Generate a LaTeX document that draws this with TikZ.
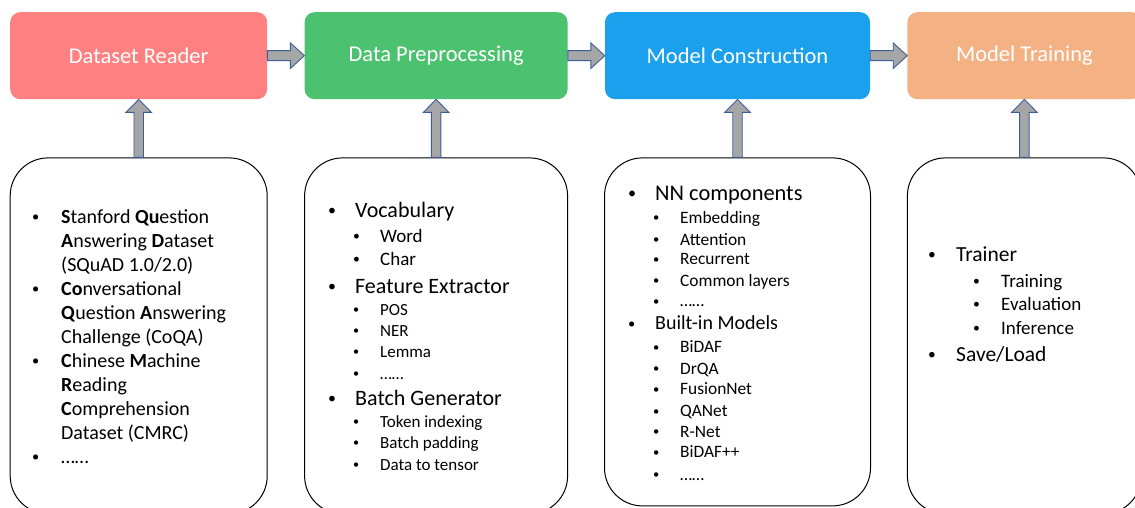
\documentclass[tikz,border=0pt]{standalone}
\usepackage{fontspec}
\setmainfont{Carlito}
\usetikzlibrary{positioning,calc}

\definecolor{readerred}{RGB}{255,128,128}
\definecolor{prepgreen}{RGB}{76,194,112}
\definecolor{modelblue}{RGB}{26,160,237}
\definecolor{trainorange}{RGB}{244,177,131}
\definecolor{arrowfill}{RGB}{166,166,166}
\definecolor{arrowline}{RGB}{60,95,155}

\tikzset{
  stage/.style={rectangle, rounded corners=10pt, minimum height=87pt,
    inner sep=0pt, text=white, font=\fontsize{22.5}{27}\selectfont},
  panel/.style={rectangle, rounded corners=38pt, draw=black,
    line width=1pt, fill=white, inner sep=0pt},
  listtext/.style={anchor=base west, inner sep=0pt, text=black},
  blockarrow/.style={draw=arrowline, fill=arrowfill, line width=0.9pt},
}

% small bullet
\newcommand{\dotmark}{\raisebox{0.08em}{\scalebox{0.72}{\textbullet}}}
% bullet line: size, skip, bullet x, text x
\newcommand{\bitem}[4]{\fontsize{#1}{#2}\selectfont\noindent\makebox[#4][l]{\hspace*{#3}\dotmark}}
% continued line: size, skip, text x
\newcommand{\citem}[3]{\fontsize{#1}{#2}\selectfont\noindent\hspace*{#3}}
\newcommand{\listbox}[1]{\parbox[t]{260pt}{\lineskiplimit=-100pt #1}}

% block arrows between nodes
\newcommand{\harrow}[2]{%
  \draw[blockarrow] let \p1=(#1.east), \p2=(#2.west) in
    (\x1,\y1+5pt) -- (\x2-14pt,\y1+5pt) -- (\x2-14pt,\y1+12.8pt) -- (\x2,\y1)
    -- (\x2-14pt,\y1-12.8pt) -- (\x2-14pt,\y1-5pt) -- (\x1,\y1-5pt) -- cycle;}
\newcommand{\varrow}[2]{%
  \draw[blockarrow] let \p1=(#1.north), \p2=(#2.south) in
    (\x1-4.75pt,\y1) -- (\x1-4.75pt,\y2-13pt) -- (\x1-12.8pt,\y2-13pt) -- (\x1,\y2)
    -- (\x1+12.8pt,\y2-13pt) -- (\x1+4.75pt,\y2-13pt) -- (\x1+4.75pt,\y1) -- cycle;}

\begin{document}
\begin{tikzpicture}[x=1pt, y=-1pt]
  \useasboundingbox (0,0) rectangle (1135,508);

  % Define nodes
  \node[stage, fill=readerred, minimum width=257pt, anchor=north west] (reader) at (10,12) {Dataset Reader};
  \node[stage, fill=prepgreen, minimum width=263pt, right=37pt of reader]   (prep)      {Data Preprocessing};
  \node[stage, fill=modelblue, minimum width=265pt, right=37pt of prep]     (construct) {Model Construction};
  \node[stage, fill=trainorange, minimum width=234pt, right=37pt of construct] (train) {Model Training};

  \node[panel, minimum width=257pt, minimum height=356pt, below=58pt of reader]    (readerbox)    {};
  \node[panel, minimum width=263pt, minimum height=356pt, below=58pt of prep]      (prepbox)      {};
  \node[panel, minimum width=266pt, minimum height=348pt, below=58pt of construct] (constructbox) {};
  \node[panel, minimum width=234pt, minimum height=356pt, below=58pt of train]     (trainbox)     {};

  % Lists
  \node[listtext] (readerlist) at (10,223) {\listbox{%
    \bitem{20}{24}{22pt}{51pt}\textbf{S}tanford \textbf{Qu}estion\par
    \citem{20}{24}{51pt}\textbf{A}nswering \textbf{D}ataset\par
    \citem{20}{24}{51pt}(SQuAD 1.0/2.0)\par
    \bitem{20}{24}{22pt}{51pt}\textbf{Co}nversational\par
    \citem{20}{24}{51pt}\textbf{Q}uestion \textbf{A}nswering\par
    \citem{20}{24}{51pt}Challenge (CoQA)\par
    \bitem{20}{24}{22pt}{51pt}\textbf{C}hinese \textbf{M}achine\par
    \citem{20}{24}{51pt}\textbf{R}eading\par
    \citem{20}{24}{51pt}\textbf{C}omprehension\par
    \citem{20}{24}{51pt}Dataset (CMRC)\par
    \bitem{20}{24}{22pt}{51pt}……\par}};

  \node[listtext] (preplist) at (304,217) {\listbox{%
    \bitem{22}{24}{24pt}{51pt}Vocabulary\par
    \bitem{19}{25}{49pt}{76pt}Word\par
    \bitem{19}{23}{49pt}{76pt}Char\par
    \bitem{22}{28}{24pt}{51pt}Feature Extractor\par
    \bitem{17}{22}{49pt}{76pt}POS\par
    \bitem{17}{21}{49pt}{76pt}NER\par
    \bitem{17}{21}{49pt}{76pt}Lemma\par
    \bitem{17}{22}{49pt}{76pt}……\par
    \bitem{22}{26}{24pt}{51pt}Batch Generator\par
    \bitem{17}{22}{49pt}{76pt}Token indexing\par
    \bitem{17}{21}{49pt}{76pt}Batch padding\par
    \bitem{17}{22}{49pt}{76pt}Data to tensor\par}};

  \node[listtext] (constructlist) at (604,200) {\listbox{%
    \bitem{22.4}{24}{24pt}{51pt}NN components\par
    \bitem{17.4}{23}{49pt}{76pt}Embedding\par
    \bitem{17.4}{22}{49pt}{76pt}Attention\par
    \bitem{17.4}{20}{49pt}{76pt}Recurrent\par
    \bitem{17.4}{21}{49pt}{76pt}Common layers\par
    \bitem{17.4}{21}{49pt}{76pt}……\par
    \bitem{20}{23}{24pt}{51pt}Built-in Models\par
    \bitem{17.4}{23}{49pt}{76pt}BiDAF\par
    \bitem{17.4}{21}{49pt}{76pt}DrQA\par
    \bitem{17.4}{21}{49pt}{76pt}FusionNet\par
    \bitem{17.4}{22}{49pt}{76pt}QANet\par
    \bitem{17.4}{20}{49pt}{76pt}R-Net\par
    \bitem{17.4}{21}{49pt}{76pt}BiDAF++\par
    \bitem{17.4}{22}{49pt}{76pt}……\par}};

  \node[listtext] (trainlist) at (906,261) {\listbox{%
    \bitem{21.5}{24}{22pt}{50pt}Trainer\par
    \bitem{19}{26}{67pt}{95pt}Training\par
    \bitem{19}{23}{67pt}{95pt}Evaluation\par
    \bitem{19}{24}{67pt}{95pt}Inference\par
    \bitem{21.5}{27}{22pt}{50pt}Save/Load\par}};

  % Connect the nodes
  \harrow{reader}{prep}
  \harrow{prep}{construct}
  \harrow{construct}{train}
  \varrow{readerbox}{reader}
  \varrow{prepbox}{prep}
  \varrow{constructbox}{construct}
  \varrow{trainbox}{train}

\end{tikzpicture}
\end{document}
